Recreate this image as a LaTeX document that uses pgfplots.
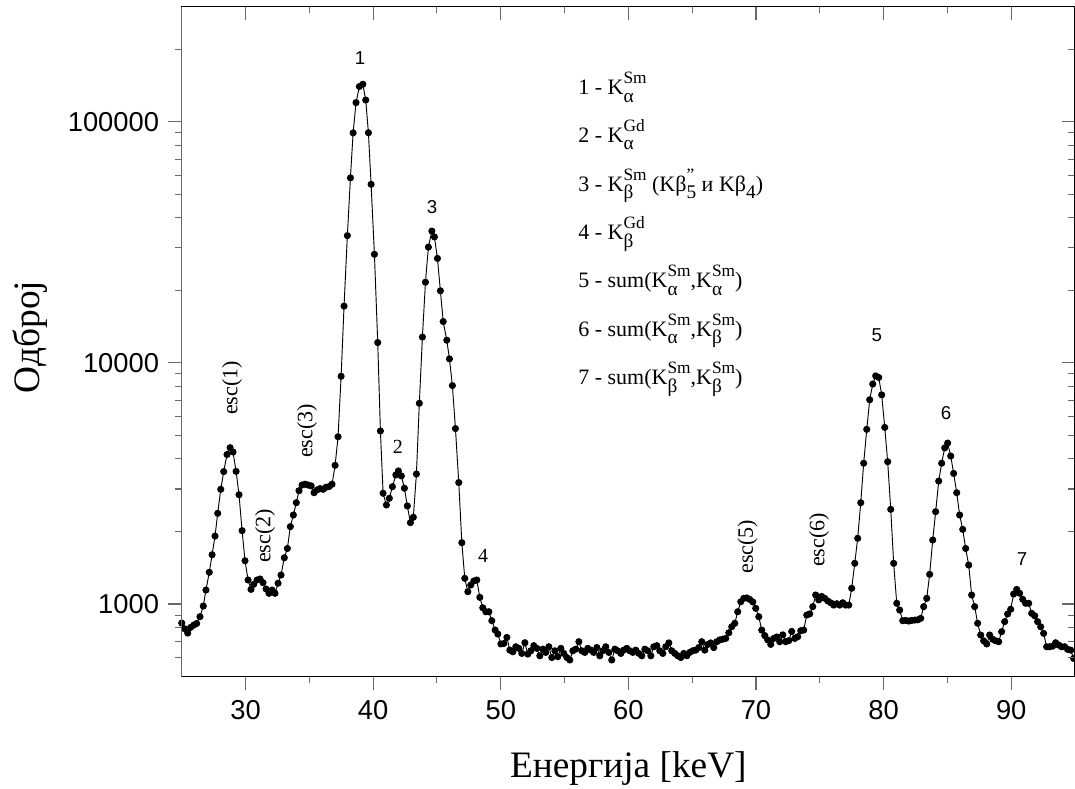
\documentclass[border=0pt]{standalone}
\usepackage{fontspec}
\setmainfont{Liberation Serif}
\setsansfont{Liberation Sans}
\usepackage{pgfplots}
\pgfplotsset{compat=1.18}
\definecolor{tickgray}{RGB}{105,105,105}
% superscript #1 over subscript #2, stacked
\newcommand{\supsub}[2]{\begingroup
  \setbox0\hbox{\fontsize{13}{13}\selectfont #1}\setbox2\hbox{\fontsize{14.5}{14.5}\selectfont #2}%
  \dimen0=\wd0 \ifdim\wd2>\dimen0 \dimen0=\wd2 \fi
  \hbox to\dimen0{\rlap{\raisebox{8.5pt}{\box0}}\raisebox{-5.5pt}{\box2}\hss}\endgroup}
\newcommand{\Kl}[2]{K\supsub{#2}{#1}}

\begin{document}
\begin{tikzpicture}
\begin{axis}[
  scale only axis, width=670pt, height=502.5pt,
  xmin=25, xmax=95, ymin=500, ymax=300000, ymode=log,
  xtick={30,40,50,60,70,80,90}, minor x tick num=1,
  ytick={1000,10000,100000},
  minor ytick={600,700,800,900,2000,3000,4000,5000,6000,7000,8000,9000,20000,30000,40000,50000,60000,70000,80000,90000,200000},
  major tick length=10pt, minor tick length=5pt,
  axis line style={line width=0.8pt},
  every tick/.style={tickgray, line width=0.8pt},
  clip=false,
  tick align=outside, xtick pos=bottom, ytick pos=left,
  xticklabels={30,40,50,60,70,80,90},
  yticklabels={1000,10000,100000},
  ticklabel style={font=\sffamily\fontsize{20.5}{24}\selectfont},
  xticklabel style={yshift=-4pt},
  yticklabel style={xshift=-3.5pt},
]
\addplot[black, line width=0.7pt, mark=*, mark size=2.3pt] coordinates {
(25.00,834)(25.23,790)(25.47,758)(25.70,800)(25.94,818)(26.17,830)(26.43,886)(26.69,981)
(26.90,1143)(27.16,1354)(27.38,1601)(27.61,1914)(27.82,2377)(28.06,2990)(28.29,3540)(28.55,4170)
(28.79,4450)(29.02,4270)(29.26,3550)(29.49,2840)(29.73,2015)(29.96,1512)(30.20,1258)(30.43,1150)
(30.64,1207)(30.90,1258)(31.14,1270)(31.37,1226)(31.61,1154)(31.84,1108)(32.08,1143)(32.31,1108)
(32.55,1219)(32.78,1319)(33.04,1556)(33.28,1700)(33.51,2093)(33.75,2340)(33.98,2632)(34.19,2950)
(34.43,3115)(34.67,3140)(34.90,3115)(35.14,3090)(35.37,2895)(35.61,2975)(35.84,3010)(36.08,2990)
(36.31,3050)(36.55,3070)(36.78,3140)(37.02,3760)(37.25,4940)(37.49,8800)(37.72,17200)(37.98,33700)
(38.22,58500)(38.43,89900)(38.66,120000)(38.92,140000)(39.19,143000)(39.42,123000)(39.63,90000)(39.84,55000)
(40.10,28200)(40.36,12140)(40.57,5220)(40.78,2880)(41.04,2575)(41.27,2745)(41.51,3066)(41.78,3430)
(41.98,3564)(42.21,3398)(42.45,3020)(42.68,2551)(42.92,2175)(43.15,2290)(43.39,3460)(43.62,6800)
(43.86,12790)(44.10,21600)(44.33,30200)(44.60,35200)(44.80,33300)(45.04,27100)(45.27,19900)(45.49,14840)
(45.77,12420)(45.98,10390)(46.21,8050)(46.45,5340)(46.71,3190)(46.95,1796)(47.18,1278)(47.42,1125)
(47.65,1199)(47.89,1246)(48.12,1258)(48.36,1066)(48.59,965)(48.83,929)(49.07,929)(49.30,853)
(49.56,780)(49.77,751)(50.01,683)(50.24,686)(50.48,727)(50.71,644)(50.95,634)(51.18,665)
(51.42,655)(51.65,624)(51.89,691)(52.12,620)(52.36,640)(52.59,672)(52.83,655)(53.06,610)
(53.30,650)(53.53,630)(53.77,665)(54.00,600)(54.24,640)(54.47,605)(54.71,655)(54.94,624)
(55.18,600)(55.41,586)(55.65,640)(55.88,650)(56.12,698)(56.35,640)(56.59,630)(56.82,655)
(57.06,644)(57.29,630)(57.53,660)(57.76,610)(58.00,640)(58.23,665)(58.47,630)(58.70,586)
(58.94,650)(59.17,640)(59.41,624)(59.64,644)(59.88,655)(60.11,640)(60.35,630)(60.58,644)
(60.82,624)(61.05,610)(61.29,650)(61.52,640)(61.76,610)(61.99,665)(62.23,672)(62.46,640)
(62.70,624)(62.93,665)(63.17,690)(63.40,640)(63.64,624)(63.87,610)(64.11,600)(64.34,624)
(64.58,610)(64.81,630)(65.05,640)(65.28,644)(65.52,660)(65.75,698)(65.99,644)(66.22,680)
(66.46,690)(66.69,660)(66.93,698)(67.16,710)(67.40,715)(67.63,720)(67.87,760)(68.10,805)
(68.34,832)(68.57,929)(68.81,1022)(69.04,1056)(69.28,1060)(69.51,1045)(69.75,1020)(69.98,960)
(70.22,886)(70.45,780)(70.69,740)(70.92,710)(71.16,680)(71.39,720)(71.63,730)(71.86,698)
(72.10,745)(72.33,698)(72.57,705)(72.80,770)(73.04,720)(73.27,732)(73.51,775)(73.74,780)
(73.98,900)(74.21,910)(74.45,975)(74.68,1090)(74.92,1040)(75.15,1075)(75.39,1056)(75.62,1030)
(75.86,1012)(76.09,990)(76.33,1003)(76.56,990)(76.80,1012)(77.03,990)(77.27,990)(77.50,1162)
(77.74,1475)(77.97,1873)(78.21,2630)(78.44,3835)(78.68,5300)(78.91,7030)(79.15,8170)(79.38,8830)
(79.62,8700)(79.85,7370)(80.09,5400)(80.32,3892)(80.56,2470)(80.79,1475)(81.03,1007)(81.26,944)
(81.50,853)(81.73,855)(81.97,850)(82.20,855)(82.44,858)(82.67,860)(82.91,872)(83.14,975)
(83.38,1056)(83.61,1328)(83.85,1843)(84.08,2415)(84.32,3235)(84.55,3835)(84.79,4440)(85.02,4650)
(85.26,4110)(85.49,3480)(85.73,2895)(85.96,2340)(86.20,2040)(86.43,1700)(86.67,1451)(86.90,1090)
(87.14,975)(87.37,832)(87.61,744)(87.84,704)(88.08,683)(88.31,744)(88.55,714)(88.78,704)
(89.02,698)(89.25,768)(89.49,845)(89.72,909)(89.96,951)(90.19,1100)(90.43,1150)(90.66,1108)
(90.90,1046)(91.13,1007)(91.37,1007)(91.60,915)(91.84,894)(92.07,845)(92.31,805)(92.54,756)
(92.78,665)(93.01,665)(93.25,669)(93.48,691)(93.72,676)(93.95,665)(94.19,665)(94.42,649)
(94.66,644)(94.89,595)
};
\coordinate (BL) at (rel axis cs:0,0);
\coordinate (TR) at (rel axis cs:1,1);
% peak numbers
\node[font=\sffamily\fontsize{14}{16}\selectfont] at (rel axis cs:0.1996,0.9234) {1};
\node[font=\sffamily\fontsize{14}{16}\selectfont] at (rel axis cs:0.2802,0.7010) {3};
\node[font=\sffamily\fontsize{14}{16}\selectfont] at (rel axis cs:0.7780,0.5100) {5};
\node[font=\sffamily\fontsize{14}{16}\selectfont] at (rel axis cs:0.8556,0.3936) {6};
\node[font=\sffamily\fontsize{14}{16}\selectfont] at (rel axis cs:0.9408,0.1757) {7};
\node[font=\fontsize{15}{17}\selectfont] at (rel axis cs:0.2421,0.3428) {2};
\node[font=\fontsize{15}{17}\selectfont] at (rel axis cs:0.3373,0.1801) {4};
% escape peaks
\node[rotate=90, font=\fontsize{16.5}{19}\selectfont] at (rel axis cs:0.0563,0.4309) {esc(1)};
\node[rotate=90, font=\fontsize{16.5}{19}\selectfont] at (rel axis cs:0.0932,0.2100) {esc(2)};
\node[rotate=90, font=\fontsize{16.5}{19}\selectfont] at (rel axis cs:0.1402,0.3667) {esc(3)};
\node[rotate=90, font=\fontsize{16.5}{19}\selectfont] at (rel axis cs:0.6334,0.1940) {esc(5)};
\node[rotate=90, font=\fontsize{16.5}{19}\selectfont] at (rel axis cs:0.7134,0.2040) {esc(6)};
% key
\node[anchor=base west, inner sep=0pt, font=\fontsize{16.5}{19}\selectfont] at (rel axis cs:0.4437,0.8682) {1 - \Kl{α}{Sm}};
\node[anchor=base west, inner sep=0pt, font=\fontsize{16.5}{19}\selectfont] at (rel axis cs:0.4437,0.7970) {2 - \Kl{α}{Gd}};
\node[anchor=base west, inner sep=0pt, font=\fontsize{16.5}{19}\selectfont] at (rel axis cs:0.4437,0.7239) {3 - \Kl{β}{Sm} (Kβ\supsub{"}{5} и Kβ\supsub{}{4})};
\node[anchor=base west, inner sep=0pt, font=\fontsize{16.5}{19}\selectfont] at (rel axis cs:0.4437,0.6518) {4 - \Kl{β}{Gd}};
\node[anchor=base west, inner sep=0pt, font=\fontsize{16.5}{19}\selectfont] at (rel axis cs:0.4437,0.5802) {5 - sum(\Kl{α}{Sm},\Kl{α}{Sm})};
\node[anchor=base west, inner sep=0pt, font=\fontsize{16.5}{19}\selectfont] at (rel axis cs:0.4437,0.5075) {6 - sum(\Kl{α}{Sm},\Kl{β}{Sm})};
\node[anchor=base west, inner sep=0pt, font=\fontsize{16.5}{19}\selectfont] at (rel axis cs:0.4437,0.4354) {7 - sum(\Kl{β}{Sm},\Kl{β}{Sm})};
% axis titles
\node[anchor=base, font=\fontsize{28}{32}\selectfont] at ([yshift=-76pt]rel axis cs:0.5,0) {Енергија [keV]};
\node[anchor=base, rotate=90, font=\fontsize{28}{32}\selectfont] at ([xshift=-106.5pt]rel axis cs:0,0.507) {Одброј};
\end{axis}
\begin{axis}[
  scale only axis, width=670pt, height=502.5pt,
  xmin=25, xmax=95, ymin=500, ymax=300000, ymode=log,
  xtick={30,40,50,60,70,80,90}, minor x tick num=1,
  ytick={1000,10000,100000},
  minor ytick={600,700,800,900,2000,3000,4000,5000,6000,7000,8000,9000,20000,30000,40000,50000,60000,70000,80000,90000,200000},
  major tick length=10pt, minor tick length=5pt,
  axis line style={line width=0.8pt},
  every tick/.style={tickgray, line width=0.8pt},
  tick align=inside, xtick pos=top, ytick pos=right,
  xticklabels={}, yticklabels={},
]
\addplot[draw=none, forget plot] coordinates {(25,1000)(95,1000)};
\end{axis}
\draw[tickgray, line width=1pt] (BL) -- (BL|-TR);
\pgfresetboundingbox
\path[use as bounding box] ([xshift=-136.3pt,yshift=-84.2pt]BL) rectangle ([yshift=5pt]TR);
\end{tikzpicture}
\end{document}
